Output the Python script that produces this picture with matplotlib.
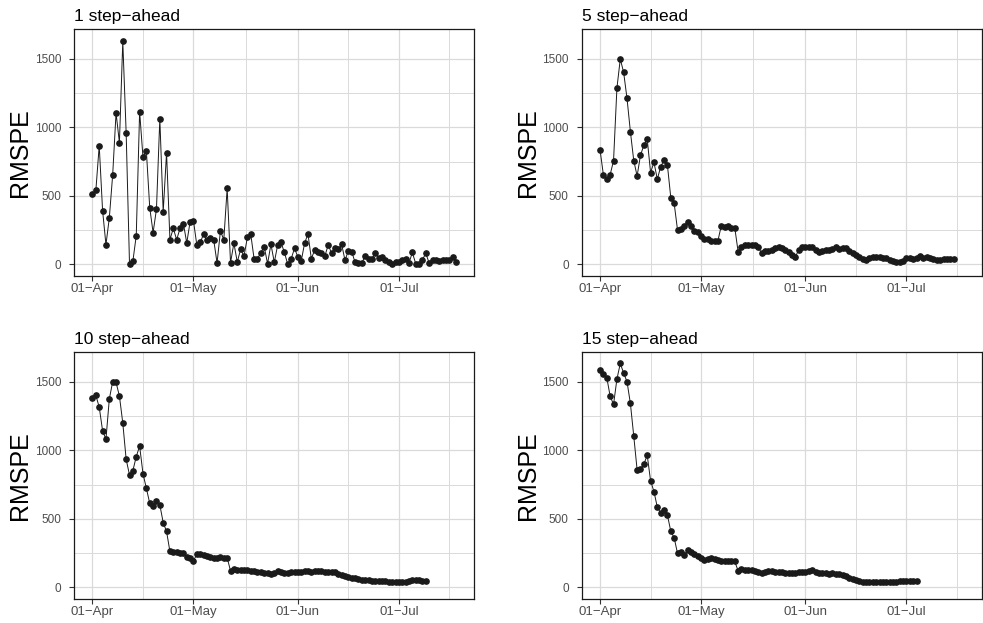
import numpy as np
import pandas as pd
import matplotlib
matplotlib.use('Agg')
import matplotlib.pyplot as plt
import matplotlib.dates as mdates
from matplotlib.ticker import FixedLocator

plt.rcParams['font.family'] = ['Liberation Sans', 'DejaVu Sans']

# RMSPE by forecast origin (daily, starting 01-Apr)
titles = ['1 step\u2212ahead', '5 step\u2212ahead', '10 step\u2212ahead', '15 step\u2212ahead']

rmspe_1 = [515, 539, 866, 393, 144, 339, 654, 1105, 888, 1627, 961, 0, 24, 210, 1115, 780,
           829, 415, 232, 402, 1063, 383, 815, 180, 263, 180, 263, 298, 156, 312, 317, 139,
           161, 220, 176, 195, 180, 10, 244, 180, 554, 12, 155, 17, 110, 60, 197, 222,
           40, 42, 85, 130, 5, 147, 15, 142, 160, 87, 0, 40, 117, 55, 25, 155,
           222, 42, 105, 90, 85, 60, 140, 85, 117, 110, 147, 30, 100, 92, 15, 10,
           10, 62, 40, 42, 80, 50, 55, 35, 17, 5, 15, 15, 30, 40, 10, 87,
           5, 5, 35, 80, 10, 35, 30, 25, 30, 35, 30, 55, 15]

rmspe_5 = [833, 650, 626, 655, 757, 1286, 1498, 1400, 1210, 969, 757, 645, 796, 869, 913, 670,
           745, 621, 713, 760, 723, 487, 446, 251, 258, 280, 312, 282, 244, 239, 209, 185,
           185, 173, 173, 173, 282, 275, 282, 268, 268, 92, 125, 140, 140, 140, 138, 126,
           80, 95, 100, 105, 117, 125, 117, 105, 92, 68, 56, 105, 129, 129, 125, 129,
           105, 92, 97, 105, 105, 110, 129, 110, 117, 117, 100, 80, 68, 51, 36, 32,
           44, 56, 51, 51, 44, 44, 32, 27, 19, 19, 27, 44, 44, 36, 44, 61,
           44, 51, 44, 36, 32, 32, 36, 36, 36, 36]

rmspe_10 = [1381, 1400, 1315, 1143, 1080, 1374, 1500, 1495, 1396, 1199, 934, 820, 852, 954, 1031, 830,
            723, 614, 595, 631, 602, 473, 408, 262, 260, 255, 252, 250, 223, 211, 194, 243,
            240, 235, 228, 221, 214, 211, 223, 218, 216, 121, 133, 126, 124, 124, 129, 121,
            117, 112, 109, 107, 102, 100, 107, 121, 110, 107, 107, 110, 112, 114, 115, 117,
            119, 112, 117, 119, 117, 114, 114, 115, 110, 100, 90, 83, 76, 71, 65, 60,
            55, 52, 51, 50, 50, 48, 47, 45, 42, 40, 36, 37, 40, 43, 46, 52,
            55, 55, 50, 48]

rmspe_15 = [1587, 1553, 1529, 1393, 1335, 1519, 1633, 1563, 1500, 1342, 1104, 857, 866, 898, 964, 777,
            699, 585, 544, 565, 527, 410, 362, 248, 255, 235, 274, 260, 245, 231, 218, 201,
            206, 211, 206, 199, 194, 189, 189, 192, 189, 121, 133, 129, 126, 124, 121, 114,
            102, 109, 119, 119, 114, 112, 109, 107, 105, 105, 107, 112, 112, 114, 119, 124,
            112, 107, 107, 105, 100, 102, 100, 98, 90, 81, 71, 60, 52, 48, 43, 43,
            43, 43, 43, 40, 40, 43, 43, 43, 43, 45, 45, 48, 48, 50, 48]

series = [rmspe_1, rmspe_5, rmspe_10, rmspe_15]
start = pd.Timestamp('2020-04-01')

# shared limits with ggplot-like 5% expansion
n_max = max(len(s) for s in series) - 1
x_pad = pd.Timedelta(days=0.05 * n_max)
x_lim = (start - x_pad, start + pd.Timedelta(days=n_max) + x_pad)
y_max = max(max(s) for s in series)
y_min = min(min(s) for s in series)
y_pad = 0.05 * (y_max - y_min)

majors = pd.date_range(start, periods=4, freq='MS')
ext = majors.append(pd.DatetimeIndex([majors[-1] + (majors[-1] - majors[-2])]))
minors = ext[:-1] + (ext[1:] - ext[:-1]) / 2

fig = plt.figure(figsize=(9.83, 6.23), dpi=100)
W, H = 983, 623
boxes = [(74.3, 29.3), (581.9, 29.3), (74.3, 352.3), (581.9, 352.3)]
pw, ph = 400, 246.3

for (x0, y0), vals, title in zip(boxes, series, titles):
    ax = fig.add_axes([x0 / W, 1 - (y0 + ph) / H, pw / W, ph / H])
    dates = pd.date_range(start, periods=len(vals), freq='D')
    ax.plot(dates, vals, color='#1a1a1a', lw=0.7, marker='o', ms=3.8, zorder=3)

    ax.set_xlim(x_lim)
    ax.set_ylim(y_min - y_pad, y_max + y_pad)
    ax.xaxis.set_major_locator(FixedLocator(mdates.date2num(majors)))
    ax.xaxis.set_minor_locator(FixedLocator(mdates.date2num(minors)))
    ax.xaxis.set_major_formatter(mdates.DateFormatter('%d\u2212%b'))
    ax.set_yticks([0, 500, 1000, 1500])
    ax.set_yticks([250, 750, 1250], minor=True)

    ax.grid(which='major', color='#DADADA', lw=0.9)
    ax.grid(which='minor', color='#DADADA', lw=0.7)
    ax.set_axisbelow(True)
    for sp in ax.spines.values():
        sp.set_color('#1a1a1a')
        sp.set_linewidth(0.9)
    ax.tick_params(which='major', length=3.5, width=0.8, color='#333333',
                   labelcolor='#4D4D4D')
    ax.tick_params(axis='x', which='major', labelsize=9.5, pad=2)
    ax.tick_params(axis='y', which='major', labelsize=8.5, pad=6)
    ax.tick_params(which='minor', length=0)

    ax.set_title(title, loc='left', fontsize=12.5, pad=6)
    ax.set_ylabel('RMSPE', fontsize=18)
    ax.yaxis.set_label_coords(-0.105, 0.5)

fig.savefig('out.png', dpi=100)
